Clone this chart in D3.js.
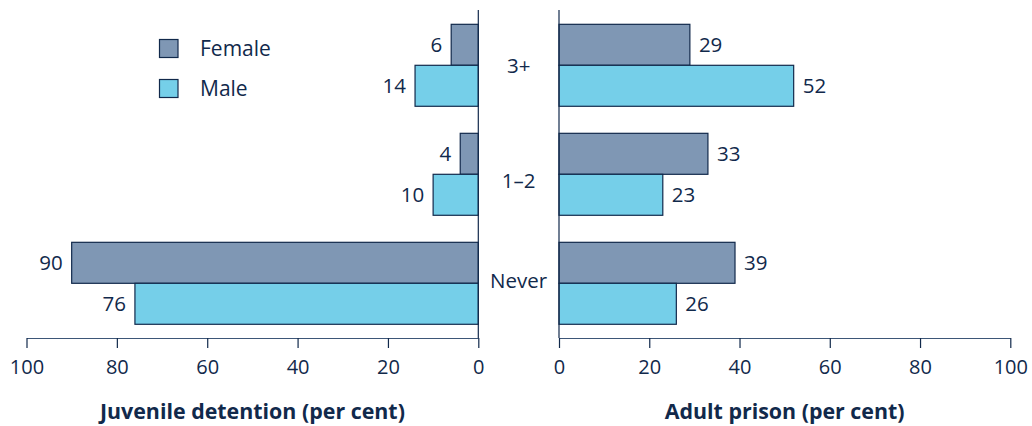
<!DOCTYPE html>
<html><head><meta charset="utf-8">
<script src="https://cdn.jsdelivr.net/npm/d3@7"></script>
<style>
body{margin:0;background:#fff;}
svg{display:block;font-family:"Open Sans",sans-serif;}
</style></head>
<body><div id="chart"></div>
<script>
const categories = ["3+", "1\u20132", "Never"];
const series = ["Female", "Male"];
const juvenileFemale = [6, 4, 90];
const juvenileMale = [14, 10, 76];
const adultFemale = [29, 33, 39];
const adultMale = [52, 23, 26];
const ticks = [0, 20, 40, 60, 80, 100];
const leftTitle = "Juvenile detention (per cent)";
const rightTitle = "Adult prison (per cent)";

const W = 1032, H = 426;
const ink = "#11294b";
const colors = {Female: "#7f97b4", Male: "#75cfe9"};
const catNudge = [0, 6.5, -2.5]; // label vertical nudge, as in the original layout
const svg = d3.select("#chart").append("svg").attr("width", W).attr("height", H);

const y = d3.scaleBand().domain(categories).range([10.8, 337.8]).paddingInner(0.248).paddingOuter(0.124);
const ySub = d3.scaleBand().domain(series).range([0, y.bandwidth()]);
const xL = d3.scaleLinear().domain([0, 100]).range([478.3, 26.5]);
const xR = d3.scaleLinear().domain([0, 100]).range([559, 1010.3]);
const axisY = 338;

function panel(x, fem, mal, side, title) {
  const g = svg.append("g");
  const data = [];
  categories.forEach((c, i) => {
    data.push({c, s: "Female", v: fem[i]});
    data.push({c, s: "Male", v: mal[i]});
  });
  g.selectAll("rect").data(data).join("rect")
    .attr("x", d => Math.min(x(0), x(d.v)))
    .attr("width", d => Math.abs(x(d.v) - x(0)))
    .attr("y", d => y(d.c) + ySub(d.s))
    .attr("height", ySub.bandwidth())
    .attr("fill", d => colors[d.s])
    .attr("stroke", ink).attr("stroke-width", 1.2);
  g.selectAll("text.val").data(data).join("text").attr("class", "val")
    .attr("x", d => side === "left" ? x(d.v) - 9 : x(d.v) + 9)
    .attr("y", d => y(d.c) + ySub(d.s) + ySub.bandwidth() / 2)
    .attr("dy", "0.36em")
    .attr("text-anchor", side === "left" ? "end" : "start")
    .attr("font-size", 20.5).attr("fill", ink)
    .text(d => d.v);
  g.append("line").attr("x1", x(0)).attr("x2", x(0)).attr("y1", 10).attr("y2", axisY)
    .attr("stroke", ink).attr("stroke-width", 1.2);
  const ax = g.append("g").attr("transform", `translate(0,${axisY})`)
    .call(d3.axisBottom(x).tickValues(ticks).tickSize(10).tickSizeOuter(0).tickPadding(12));
  ax.select(".domain").attr("stroke", "#3d5677").attr("stroke-width", 1.2);
  ax.selectAll(".tick line").attr("stroke", ink).attr("stroke-width", 1.2);
  ax.selectAll(".tick text").attr("font-size", 20).attr("fill", ink)
    .attr("font-family", "'Open Sans',sans-serif");
  const [r0, r1] = x.range();
  g.append("text").attr("x", (r0 + r1) / 2).attr("y", 419)
    .attr("text-anchor", "middle").attr("font-size", 21.4).attr("font-weight", "bold")
    .attr("fill", ink).text(title);
}
panel(xL, juvenileFemale, juvenileMale, "left", leftTitle);
panel(xR, adultFemale, adultMale, "right", rightTitle);

svg.selectAll("text.cat").data(categories).join("text").attr("class", "cat")
  .attr("x", (xL(0) + xR(0)) / 2)
  .attr("y", (d, i) => y(d) + y.bandwidth() / 2 + catNudge[i])
  .attr("dy", "0.36em").attr("text-anchor", "middle")
  .attr("font-size", 20.5).attr("fill", ink).text(d => d);

const lg = svg.append("g");
series.forEach((s, i) => {
  const yy = 39.5 + i * 40;
  lg.append("rect").attr("x", 159.5).attr("y", yy).attr("width", 18.5).attr("height", 18)
    .attr("fill", colors[s]).attr("stroke", ink).attr("stroke-width", 1.2);
  lg.append("text").attr("x", 200).attr("y", yy + 9).attr("dy", "0.36em")
    .attr("font-size", 21).attr("fill", ink).text(s);
});
</script></body></html>
